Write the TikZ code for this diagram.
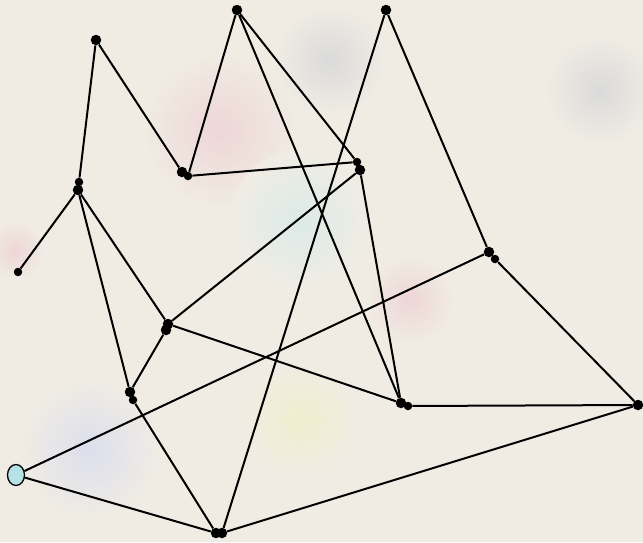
\documentclass[tikz,border=0pt]{standalone}
\usetikzlibrary{shapes.geometric}
\definecolor{bgc}{RGB}{240,236,228}
\definecolor{pb}{RGB}{180,226,230}
\definecolor{tpink}{RGB}{238,214,214}
\definecolor{tcyan}{RGB}{220,234,232}
\definecolor{tblue}{RGB}{220,222,236}
\definecolor{tgray}{RGB}{218,218,218}
\definecolor{tyel}{RGB}{240,238,206}
\begin{document}
\begin{tikzpicture}[x=1pt,y=-1pt,
  dot/.style={circle,fill=black,inner sep=0pt,minimum size=10.5pt},
  sdot/.style={circle,fill=black,inner sep=0pt,minimum size=8.5pt},
  edge/.style={line width=2pt},
  tint/.style={inner color=#1,outer color=bgc}]
\fill[bgc] (0,0) rectangle (643,542);
\useasboundingbox (0,0) rectangle (643,542);
% faint background tints
\shade[tint=tpink] (220,130) circle (80);
\shade[tint=tcyan] (300,220) circle (70);
\shade[tint=tblue] (90,450) circle (70);
\shade[tint=tgray] (600,90) circle (55);
\shade[tint=tyel] (300,420) circle (60);
\shade[tint=tpink] (410,300) circle (45);
\shade[tint=tgray] (330,60) circle (55);
\shade[tint=tpink] (15,250) circle (30);
% nodes
\node[dot] (A) at (96,40) {};
\node[dot] (B) at (237,10) {};
\node[dot] (C) at (386,10) {};
\node[sdot] (D1) at (79,182) {};
\node[dot] (D2) at (78,190) {};
\node[sdot] (E) at (18,272) {};
\node[dot] (F1) at (182,172) {};
\node[sdot] (F2) at (188,176) {};
\node[sdot] (G1) at (357,162) {};
\node[dot] (G2) at (360,170) {};
\node[dot] (H1) at (168,324) {};
\node[dot] (H2) at (166,330) {};
\node[dot] (I1) at (489,252) {};
\node[sdot] (I2) at (495,259) {};
\node[dot] (J1) at (130,392) {};
\node[sdot] (J2) at (133,400) {};
\node[dot] (K1) at (401,403) {};
\node[sdot] (K2) at (408,406) {};
\node[dot] (L) at (638,405) {};
\node[ellipse,draw=black,line width=1.3pt,fill=pb,minimum width=17pt,minimum height=21pt,inner sep=0pt] (M) at (16,475) {};
\node[dot] (N1) at (216,533) {};
\node[dot] (N2) at (222,533) {};
% edges
\draw[edge] (A) -- (D1);
\draw[edge] (A) -- (F1);
\draw[edge] (B) -- (F2);
\draw[edge] (B) -- (G1);
\draw[edge] (B) -- (K1);
\draw[edge] (C) -- (N2);
\draw[edge] (C) -- (I1);
\draw[edge] (F2) -- (G1);
\draw[edge] (D1) -- (D2);
\draw[edge] (D2) -- (E);
\draw[edge] (D2) -- (H1);
\draw[edge] (D2) -- (J1);
\draw[edge] (G2) -- (H1);
\draw[edge] (G2) -- (K1);
\draw[edge] (H2) -- (J1);
\draw[edge] (H1) -- (K1);
\draw[edge] (J2) -- (N1);
\draw[edge] (I1) -- (M);
\draw[edge] (I2) -- (L);
\draw[edge] (K2) -- (L);
\draw[edge] (M) -- (N1);
\draw[edge] (N2) -- (L);
\end{tikzpicture}
\end{document}
